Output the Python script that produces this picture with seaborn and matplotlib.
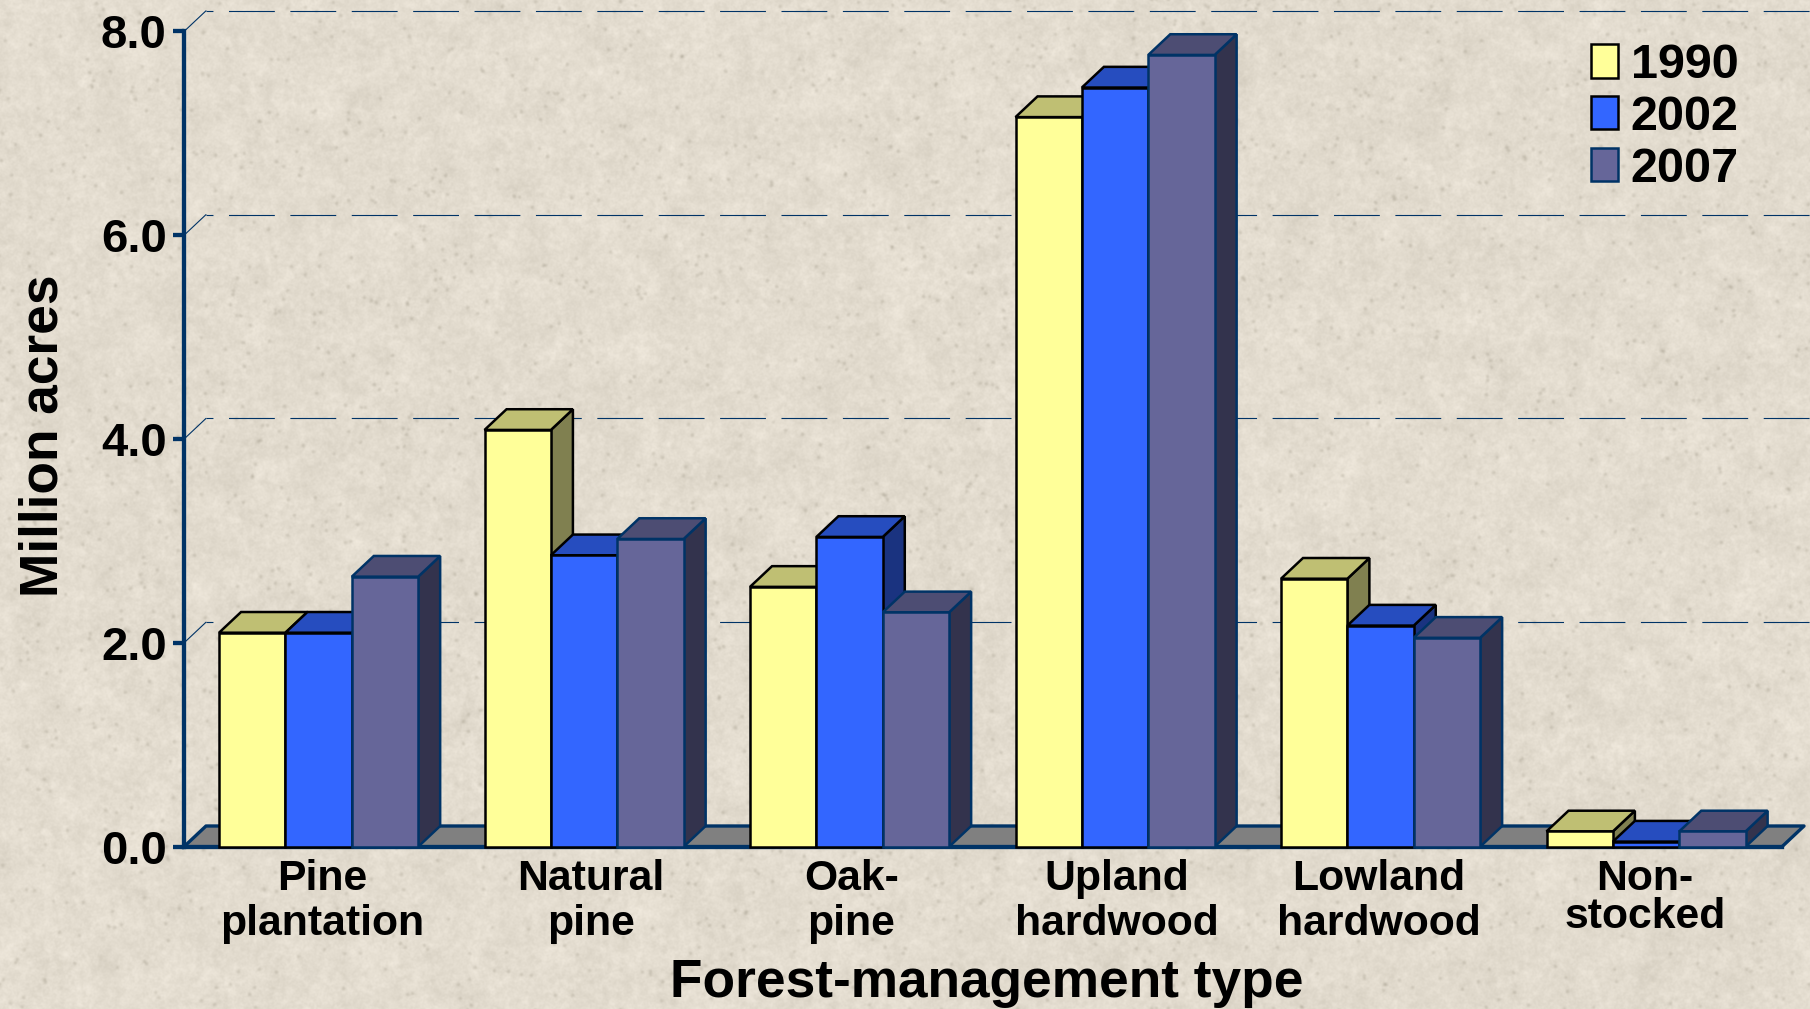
import numpy as np
import pandas as pd
import matplotlib
matplotlib.use("Agg")
import matplotlib.pyplot as plt
from matplotlib.patches import Polygon
from matplotlib.transforms import ScaledTranslation
import seaborn as sns

forest_types = ["Pine\nplantation", "Natural\npine", "Oak-\npine",
                "Upland\nhardwood", "Lowland\nhardwood", "Non-\nstocked"]
years = ["1990", "2002", "2007"]
acres_1990 = [2.10, 4.09, 2.55, 7.16, 2.63, 0.15]
acres_2002 = [2.10, 2.86, 3.04, 7.45, 2.17, 0.05]
acres_2007 = [2.65, 3.02, 2.30, 7.77, 2.05, 0.15]
y_ticks = [0, 2, 4, 6, 8]
y_labels = ["0.0", "2.0", "4.0", "6.0", "8.0"]

front_colors = ["#FFFF99", "#3366FF", "#666699"]
top_colors = ["#BFBF73", "#264DBF", "#4D4D73"]
side_colors = ["#808050", "#1A3380", "#33334D"]
edge_colors = ["black", "black", "#003366"]
navy = "#003366"

W, H = 1810, 1009
sns.set_theme(style="white")
plt.rcParams["font.family"] = ["Liberation Sans", "DejaVu Sans"]
plt.rcParams["font.weight"] = "bold"
plt.rcParams["text.color"] = "black"

df = pd.DataFrame({
    "type": forest_types * 3,
    "year": np.repeat(years, len(forest_types)),
    "acres": acres_1990 + acres_2002 + acres_2007,
})

fig = plt.figure(figsize=(W / 100, H / 100), dpi=100)

# ---------------------------
# paper texture background
# ---------------------------
yy, xx = np.mgrid[:H, :W]
grain = (np.sin(xx * 12.9898 + yy * 78.233) * 43758.5453) % 1
fy = np.fft.fftfreq(H)[:, None]
fx = np.fft.fftfreq(W)[None, :]
spec = np.fft.fft2(grain)


def blur(f, sigma):
    g = np.exp(-2 * (np.pi * sigma) ** 2 * (fx ** 2 + fy ** 2))
    return np.real(np.fft.ifft2(f * g))


def norm(a):
    return (a - a.mean()) / a.std()


dots = blur(np.fft.fft2((grain > 0.9985).astype(float)), 1.4)
shade = norm(blur(spec, 10)) * 1.2 + norm(blur(spec, 2.5)) * 1.4 + norm(blur(spec, 0.8)) * 1.6 - dots * 260
paper = np.stack([227 + shade, 220 + shade, 207 + shade * 1.05], axis=-1)
fig.figimage(np.clip(paper, 0, 255).astype(np.uint8), 0, 0, zorder=-5, origin="upper")

# ---------------------------
# axes
# ---------------------------
left, right, top, bottom = 184, 1782, 31.5, 846.7
ax = fig.add_axes([left / W, 1 - bottom / H, (right - left) / W, (bottom - top) / H])
ax.set_facecolor("none")

sns.barplot(data=df, x="type", y="acres", hue="year", hue_order=years, order=forest_types,
            palette=front_colors, saturation=1, width=0.75, gap=0, legend=False, ax=ax, errorbar=None)
ax.set_xlim(-0.507, 5.512)
ax.set_ylim(0, 8)

px_x = (right - left) / (ax.get_xlim()[1] - ax.get_xlim()[0])
px_y = (bottom - top) / 8
dx = 22 / px_x
dy = 20.7 / px_y
x0, x1 = ax.get_xlim()

# floor and back grid lines
ax.add_patch(Polygon([(x0, 0), (x1, 0), (x1 + dx, dy), (x0 + dx, dy)], closed=True, facecolor="#808080",
                     edgecolor=navy, linewidth=2.4, joinstyle="round", clip_on=False, zorder=1))
for v in y_ticks[1:]:
    ax.plot([x0, x0 + dx], [v, v + dy], color=navy, lw=0.8, clip_on=False, zorder=0.5)
    ax.plot([x0 + dx, x1 + 28 / px_x], [v + dy, v + dy], color=navy, lw=0.8, clip_on=False, zorder=0.5,
            linestyle=(28 / 0.8, (33 / 0.8, 11.2 / 0.8)), dash_capstyle="butt")

# 3D sides of the bars, drawn left to right so nearer bars overlap
z = 2
for g in range(len(forest_types)):
    for h in range(len(years)):
        bar = ax.containers[h][g]
        bx, bw, bh = bar.get_x(), bar.get_width(), bar.get_height()
        style = dict(edgecolor=edge_colors[h], linewidth=1.8, joinstyle="miter", clip_on=False)
        ax.add_patch(Polygon([(bx + bw, 0), (bx + bw + dx, dy), (bx + bw + dx, bh + dy), (bx + bw, bh)],
                             closed=True, facecolor=side_colors[h], zorder=z, **style))
        ax.add_patch(Polygon([(bx, bh), (bx + bw, bh), (bx + bw + dx, bh + dy), (bx + dx, bh + dy)],
                             closed=True, facecolor=top_colors[h], zorder=z, **style))
        bar.set_edgecolor(edge_colors[h])
        bar.set_linewidth(1.8)
        bar.set_zorder(z + 0.1)
        bar.set_clip_on(False)
        z += 1

# ---------------------------
# spines, ticks, text
# ---------------------------
sns.despine(ax=ax, top=True, right=True)
for s in ["left", "bottom"]:
    ax.spines[s].set_color(navy)
    ax.spines[s].set_linewidth(3.1)
ax.spines["bottom"].set_zorder(1.5)

ax.set_yticks(y_ticks)
ax.set_yticklabels(y_labels, fontsize=34, fontweight="bold", color="black")
ax.tick_params(axis="y", length=8, width=3.1, color=navy, pad=4.5, left=True)

ax.set_xticks(range(len(forest_types)))
ax.set_xticklabels(forest_types, fontsize=30.8, fontweight="bold", color="black", linespacing=1.14)
ax.tick_params(axis="x", length=0, pad=9, bottom=False)
nudges = [4, 7, 2, 2, -2, -1]
for lab, n in zip(ax.get_xticklabels(), nudges):
    lab.set_transform(lab.get_transform() + ScaledTranslation(n / 100, 0, fig.dpi_scale_trans))
ax.get_xticklabels()[-1].set_linespacing(0.93)

ax.set_xlabel("Forest-management type", fontsize=38.3, fontweight="bold", color="black", va="center")
ax.xaxis.set_label_coords(987 / W, 1 - 983 / H, transform=fig.transFigure)
ax.set_ylabel("Million acres", fontsize=38.3, fontweight="bold", color="black", va="center")
ax.yaxis.set_label_coords(44 / W, 1 - 436 / H, transform=fig.transFigure)

leg = ax.legend(ax.containers, years, loc="upper left", bbox_to_anchor=(1591 / W, 1 - 43 / H),
                bbox_transform=fig.transFigure, frameon=False, handlelength=0.55,
                handleheight=0.68, handletextpad=0.27, labelspacing=0.14, borderpad=0, borderaxespad=0,
                prop={"weight": "bold", "size": 35})
leg.set_zorder(100)
for t in leg.get_texts():
    t.set_color("black")

fig.savefig("out.png", dpi=100)
